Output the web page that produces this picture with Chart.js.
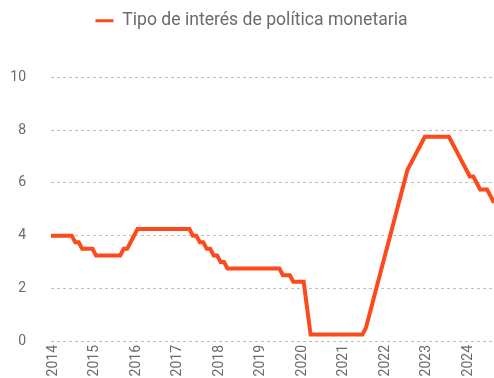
<!DOCTYPE html>
<html>
<head>
<meta charset="utf-8">
<script src="https://cdn.jsdelivr.net/npm/chart.js@4"></script>
<style>
  html, body { margin: 0; padding: 0; background: #fff; }
  .wrap { position: relative; width: 494px; height: 378px; }
</style>
</head>
<body>
<div class="wrap"><canvas id="chart"></canvas></div>
<script>
const SERIES_LABEL = 'Tipo de interés de política monetaria';
const LINE_COLOR = '#fd4a1c';
const TEXT_COLOR = '#6b6b6b';

const years = ['2014', '2015', '2016', '2017', '2018', '2019', '2020', '2021', '2022', '2023', '2024'];

// monthly policy rate, one array per year (2024 runs to September)
const rate2014 = [4.0, 4.0, 4.0, 4.0, 4.0, 4.0, 4.0, 3.75, 3.75, 3.5, 3.5, 3.5];
const rate2015 = [3.5, 3.25, 3.25, 3.25, 3.25, 3.25, 3.25, 3.25, 3.25, 3.5, 3.5, 3.75];
const rate2016 = [4.0, 4.25, 4.25, 4.25, 4.25, 4.25, 4.25, 4.25, 4.25, 4.25, 4.25, 4.25];
const rate2017 = [4.25, 4.25, 4.25, 4.25, 4.25, 4.0, 4.0, 3.75, 3.75, 3.5, 3.5, 3.25];
const rate2018 = [3.25, 3.0, 3.0, 2.75, 2.75, 2.75, 2.75, 2.75, 2.75, 2.75, 2.75, 2.75];
const rate2019 = [2.75, 2.75, 2.75, 2.75, 2.75, 2.75, 2.75, 2.5, 2.5, 2.5, 2.25, 2.25];
const rate2020 = [2.25, 2.25, 1.25, 0.25, 0.25, 0.25, 0.25, 0.25, 0.25, 0.25, 0.25, 0.25];
const rate2021 = [0.25, 0.25, 0.25, 0.25, 0.25, 0.25, 0.25, 0.5, 1.0, 1.5, 2.0, 2.5];
const rate2022 = [3.0, 3.5, 4.0, 4.5, 5.0, 5.5, 6.0, 6.5, 6.75, 7.0, 7.25, 7.5];
const rate2023 = [7.75, 7.75, 7.75, 7.75, 7.75, 7.75, 7.75, 7.75, 7.5, 7.25, 7.0, 6.75];
const rate2024 = [6.5, 6.25, 6.25, 6.0, 5.75, 5.75, 5.75, 5.5, 5.25];

const yTicks = [0, 2, 4, 6, 8, 10];

const byYear = [rate2014, rate2015, rate2016, rate2017, rate2018, rate2019,
  rate2020, rate2021, rate2022, rate2023, rate2024];

const labels = [];
const values = [];
byYear.forEach((rates, i) => {
  rates.forEach((v, m) => {
    labels.push(`${years[i]}-${String(m + 1).padStart(2, '0')}`);
    values.push(v);
  });
});

// push the plot area down below the legend, and nudge the legend right a bit
const legendGap = {
  id: 'legendGap',
  beforeInit(chart) {
    const fit = chart.legend.fit;
    chart.legend.fit = function fitWithGap() {
      fit.bind(chart.legend)();
      this.height += 38;
    };
  },
  afterLayout(chart) {
    chart.legend.left += 9;
  },
};

new Chart(document.getElementById('chart'), {
  type: 'line',
  data: {
    labels,
    datasets: [{
      label: SERIES_LABEL,
      data: values,
      borderColor: LINE_COLOR,
      backgroundColor: LINE_COLOR,
      borderWidth: 4,
      pointRadius: 0,
      tension: 0,
      fill: false,
    }],
  },
  options: {
    responsive: true,
    maintainAspectRatio: false,
    animation: false,
    layout: { padding: { top: 2, right: 0, bottom: 1, left: 0 } },
    plugins: {
      tooltip: { enabled: false },
      legend: {
        position: 'top',
        align: 'center',
        labels: {
          boxWidth: 18,
          boxHeight: 3,
          padding: 10,
          color: TEXT_COLOR,
          font: { family: 'Roboto', size: 17.6 },
          generateLabels(chart) {
            return Chart.defaults.plugins.legend.labels.generateLabels(chart)
              .map((item) => ({ ...item, lineWidth: 0 }));
          },
        },
      },
    },
    scales: {
      x: {
        type: 'category',
        offset: false,
        afterFit(scale) { scale.height = 36; },
        grid: { display: false, drawTicks: false },
        border: { display: false },
        ticks: {
          autoSkip: false,
          minRotation: 90,
          maxRotation: 90,
          padding: 4,
          labelOffset: 2,
          color: TEXT_COLOR,
          font: { family: 'Roboto', size: 14 },
          callback(value, index) {
            const lab = labels[index];
            return lab.endsWith('-01') ? lab.slice(0, 4) : null;
          },
        },
      },
      y: {
        min: 0,
        max: 10,
        afterFit(scale) { scale.width = 51; },
        afterBuildTicks(scale) { scale.ticks = yTicks.map((v) => ({ value: v })); },
        grid: { color: '#bdbdbd', lineWidth: 1, drawTicks: false },
        border: { display: false, dash: [3, 3] },
        ticks: {
          padding: 25,
          color: TEXT_COLOR,
          font: { family: 'Roboto', size: 14 },
        },
      },
    },
  },
  plugins: [legendGap],
});
</script>
</body>
</html>
